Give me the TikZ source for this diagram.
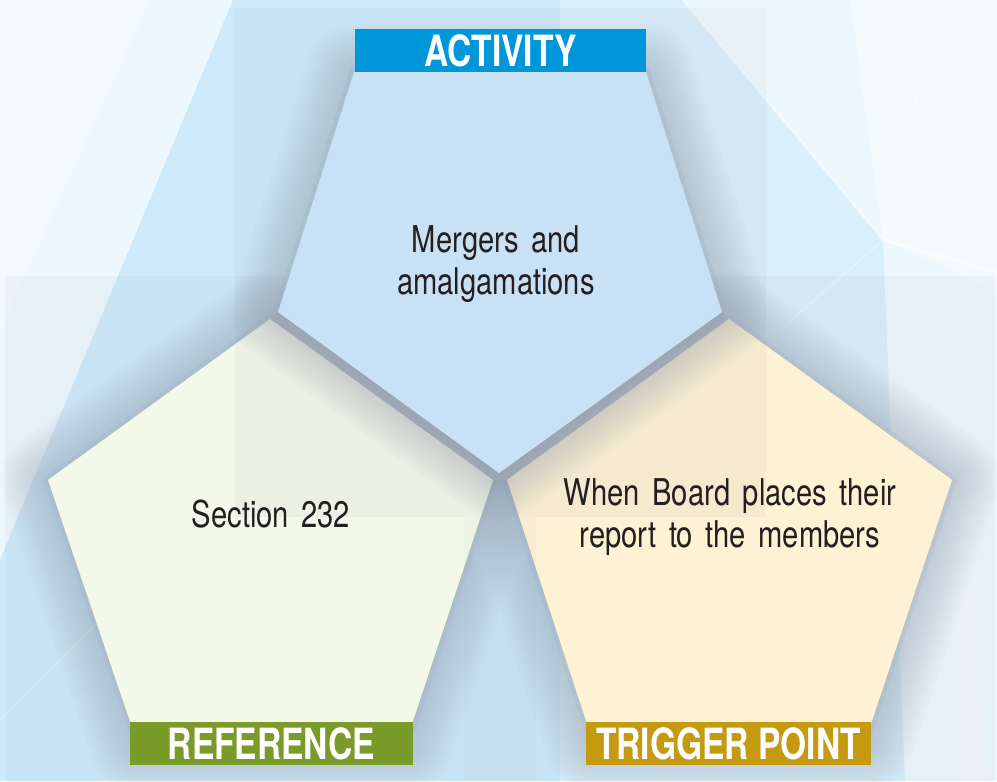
\documentclass[tikz,border=0pt]{standalone}
\usepackage{fontspec}
\setmainfont{TeX Gyre Heros}[FakeStretch=0.79]
\newfontfamily\lblfont{TeX Gyre Heros}[FakeStretch=0.78]
\definecolor{txt}{HTML}{231F20}
\definecolor{actblue}{HTML}{0096DA}
\definecolor{refgreen}{HTML}{7A9A2A}
\definecolor{trggold}{HTML}{C49A10}
\definecolor{pentop}{HTML}{CEE8FC}
\definecolor{penleft}{HTML}{F3F8E8}
\definecolor{penright}{HTML}{FEF2D4}
\definecolor{shgray}{HTML}{97A2B1}
\definecolor{gapgray}{HTML}{ADB5C1}
\definecolor{ovl}{HTML}{8E98A6}
\definecolor{bgbase}{HTML}{E3F4FC}
\definecolor{bglight}{HTML}{EDF8FE}
\definecolor{bgcyan}{HTML}{CEEAFA}
\definecolor{bgcyantwo}{HTML}{D9EFFB}
\newcommand\widesp{\spaceskip=0.34em\relax}
\tikzset{
  glow/.style={shgray, line join=round},
  bar/.style={minimum height=0.86cm, inner sep=0pt, text=white,
    font=\lblfont\bfseries\fontsize{24.5}{24.5}\selectfont},
  body/.style={text=txt, align=center, inner sep=0pt,
    font=\fontsize{21}{23.5}\selectfont, execute at begin node=\widesp},
}
\newcommand\pentglow[1]{%
  \foreach \w in {54,50,...,6}{%
    \draw[glow,line width=\w pt,opacity=0.04] #1;}%
  \draw[glow,line width=5pt,opacity=0.15] #1;}
\begin{document}
\begin{tikzpicture}[x=0.02cm,y=-0.02cm]
\useasboundingbox (0,0) rectangle (997,781);
% ---- background
\fill[bgbase] (0,0) rectangle (997,781);
\fill[bglight] (0,0) -- (233,0) -- (0,560) -- cycle;
\fill[white,opacity=.35] (0,0) -- (150,0) -- (0,330) -- cycle;
\fill[bgcyan] (233,0) -- (560,0) -- (560,781) -- (0,781) -- (0,560) -- cycle;
\fill[bgcyantwo] (560,0) -- (683,0) -- (883,240) -- (905,781) -- (560,781) -- cycle;
\fill[bglight] (683,0) -- (997,0) -- (997,781) -- (905,781) -- (883,240) -- cycle;
\fill[white,opacity=.3] (883,240) -- (850,0) -- (997,0) -- (997,290) -- cycle;
\draw[white,opacity=.45,line width=1.5pt] (683,0) -- (883,240) -- (997,272);
\draw[white,opacity=.3,line width=1pt] (883,240) -- (780,330);
\draw[white,opacity=.3,line width=1pt] (883,240) -- (940,0);
\draw[white,opacity=.3,line width=1.2pt] (0,720) -- (120,600);
\fill[white,opacity=.25] (955,500) -- (975,500) -- (985,781) -- (960,781) -- cycle;
% large lower overlay
\fill[ovl,opacity=.08] (5,276) rectangle (995,781);
% ---- pentagon vertices
\coordinate (t1) at (354,72);  \coordinate (t2) at (646,72);
\coordinate (t3) at (722,312); \coordinate (t4) at (499,473);
\coordinate (t5) at (278,312);
\coordinate (l1) at (270,319); \coordinate (l2) at (493,480);
\coordinate (l3) at (406,742); \coordinate (l4) at (137,742);
\coordinate (l5) at (48,480);
\coordinate (r1) at (729,319); \coordinate (r2) at (952,480);
\coordinate (r3) at (865,742); \coordinate (r4) at (593,742);
\coordinate (r5) at (507,480);
% ---- lower pentagons
\pentglow{(l1)--(l2)--(l3)--(l4)--(l5)--cycle}
\pentglow{(r1)--(r2)--(r3)--(r4)--(r5)--cycle}
% gray gap between the three pentagons
\fill[gapgray,opacity=.85] (t5)--(l1)--(l2)--(r5)--(r1)--(t3)--(t4)--cycle;
\fill[penleft] (l1)--(l2)--(l3)--(l4)--(l5)--cycle;
\fill[penright] (r1)--(r2)--(r3)--(r4)--(r5)--cycle;
% ---- top pentagon (casts shadow on lower ones)
\pentglow{(t1)--(t2)--(t3)--(t4)--(t5)--cycle}
\fill[pentop] (t1)--(t2)--(t3)--(t4)--(t5)--cycle;
% ---- upper translucent panel
\fill[ovl,opacity=.08] (235,8) rectangle (766,517);
\fill[ovl,opacity=.05] (464,517) rectangle (536,781);
% ---- label bars
\node[bar, fill=actblue, minimum width=5.82cm] (act) at (500.5,50.5) {ACTIVITY};
\node[bar, fill=refgreen, minimum width=5.66cm] (ref) at (271.5,743.5) {REFERENCE};
\node[bar, fill=trggold, minimum width=5.70cm] (trg) at (728.5,743.5) {TRIGGER POINT};
% ---- texts
\node[body] (acttext) at (496,264) {Mergers and\\amalgamations};
\node[body, anchor=base] (reftext) at (271,527) {Section 232};
\node[body] (trgtext) at (730,517) {When Board places their\\report to the members};
\end{tikzpicture}
\end{document}
